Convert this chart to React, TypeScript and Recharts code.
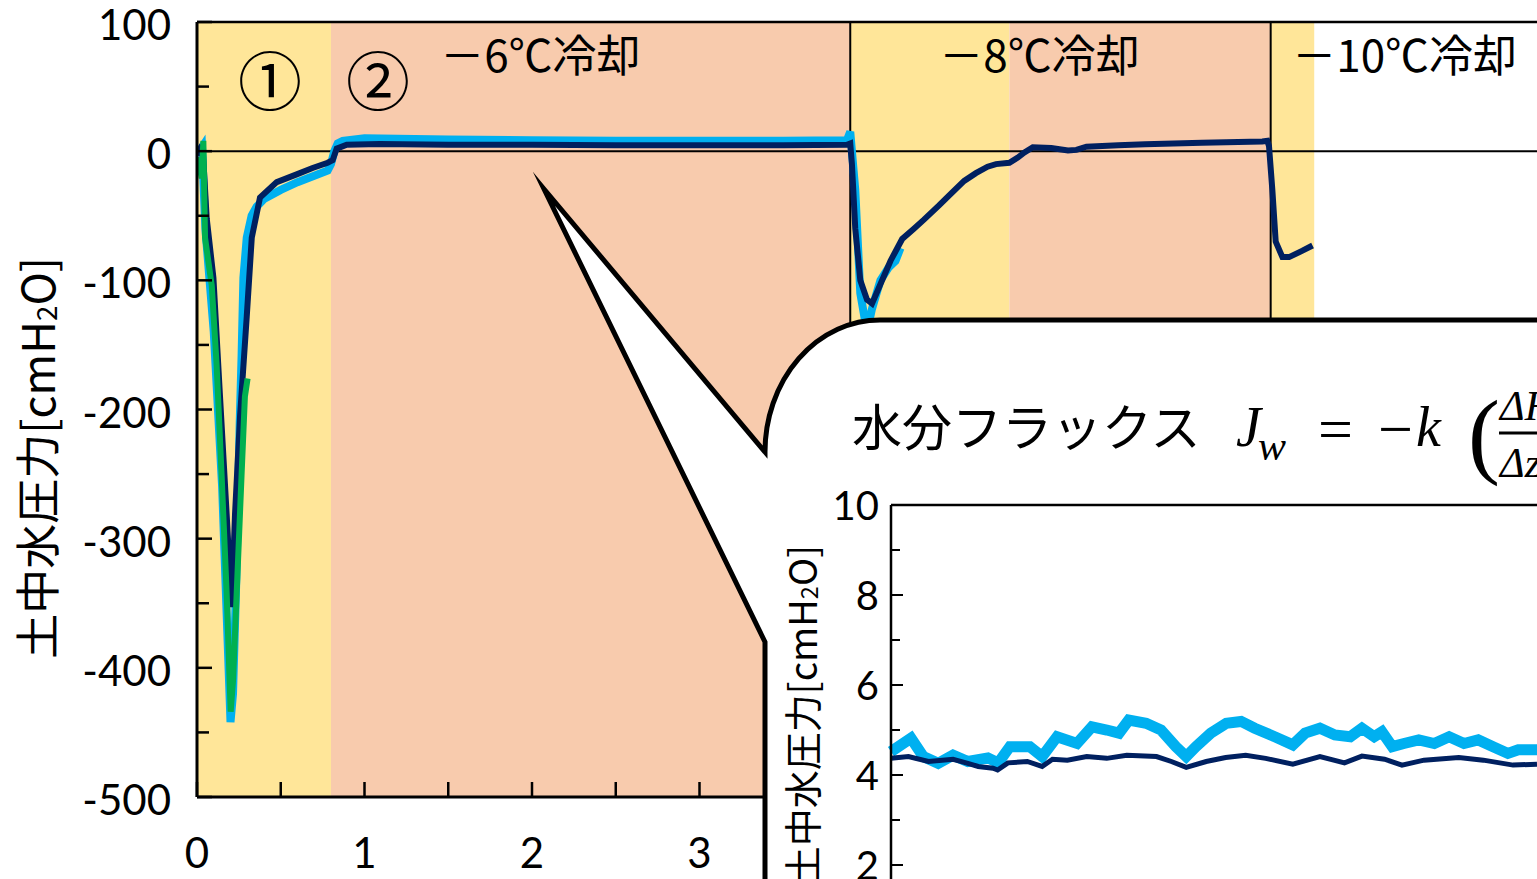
import React from 'react';
import { LineChart, Line, XAxis, YAxis, ReferenceArea, ReferenceLine, ReferenceDot } from 'recharts';

const FONT_JP = '"Noto Sans CJK JP", "Noto Sans", sans-serif';
const FONT_NUM = 'Lato, "Noto Sans", sans-serif';
const FONT_MATH = '"Liberation Serif", "DejaVu Serif", serif';

// 経過時間 (x) と土中水圧力 (y, cmH2O)
const navyX = [0, 0.02, 0.035, 0.058, 0.098, 0.137, 0.177, 0.207, 0.227, 0.257, 0.297, 0.327, 0.376, 0.476, 0.595, 0.69, 0.78, 0.81, 0.834, 0.894, 1.09, 1.5, 2, 2.5, 3, 3.5, 3.88, 3.9, 3.91, 3.93, 3.96, 4.0, 4.03, 4.08, 4.14, 4.21, 4.28, 4.34, 4.43, 4.5, 4.58, 4.65, 4.72, 4.77, 4.85, 4.9, 4.94, 4.99, 5.1, 5.2, 5.25, 5.31, 5.5, 5.66, 6.0, 6.36, 6.39, 6.4, 6.42, 6.44, 6.48, 6.52, 6.6, 6.66];
const navyY = [-3, 2, 0, -52, -98, -189, -281, -353, -281, -205, -128, -67, -36, -24, -18, -13, -9, -7, 2, 5, 5.5, 5, 5, 4.5, 4.5, 4.5, 5, 6, -10, -60, -100, -115, -118, -103, -85, -68, -60, -53, -42, -33, -23, -17, -12, -10, -9, -5, -1, 3, 2.5, 0.5, 1, 3.5, 4.5, 5.4, 6.5, 7.5, 8, 4, -30, -70, -82, -82, -77, -73];

const lightX = [0, 0.03, 0.05, 0.1, 0.15, 0.2, 0.215, 0.235, 0.255, 0.266, 0.277, 0.297, 0.326, 0.356, 0.4, 0.5, 0.6, 0.7, 0.78, 0.8, 0.82, 0.84, 0.87, 1.0, 1.5, 2, 2.5, 3, 3.5, 3.88, 3.9, 3.93, 3.96, 4.0, 4.03, 4.08, 4.13, 4.17, 4.2];
const lightY = [-3, 3, -60, -140, -260, -442, -420, -330, -210, -159, -98, -67, -50, -43, -37, -30, -24, -19, -15, -10, 0, 6, 8, 10, 9, 8.5, 8, 8, 8, 8.5, 15, -30, -110, -140, -122, -100, -90, -85, -75];

const greenX = [0, 0.01, 0.02, 0.028, 0.038, 0.048, 0.088, 0.117, 0.147, 0.177, 0.201, 0.215, 0.237, 0.266, 0.286, 0.302];
const greenY = [-12, -5, -15, -21, 8, -67, -104, -165, -251, -342, -434, -410, -342, -251, -190, -176];

// 温度条件の区間
const bandStart = [0, 0.8, 3.9, 4.85, 6.41];
const bandEnd = [0.8, 3.9, 4.85, 6.41, 6.67];
const bandKind = ['a', 'b', 'a', 'b', 'a'];
const stepLines = [3.9, 6.41];

const notes = [
  { x: 0.436, y: 53, text: '①', size: 64 },
  { x: 1.08, y: 53, text: '②', size: 64 },
  { x: 2.05, y: 73, text: '－6℃冷却', size: 44 },
  { x: 5.03, y: 73, text: '－8℃冷却', size: 44 },
  { x: 7.21, y: 73, text: '－10℃冷却', size: 44 },
];

const mainYTicks = [-500, -450, -400, -350, -300, -250, -200, -150, -100, -50, 0, 50, 100];
const mainXTicks = [0, 0.5, 1, 1.5, 2, 2.5, 3, 3.5, 4, 4.5, 5, 5.5, 6, 6.5, 7, 7.5, 8];
const mainXLabels = [0, 1, 2, 3];

// 拡大図 (水分フラックス)
const insetLightT = [0, 0.31, 0.5, 0.73, 0.96, 1.19, 1.5, 1.66, 1.84, 2.15, 2.34, 2.57, 2.88, 3.11, 3.34, 3.53, 3.68, 3.95, 4.18, 4.41, 4.57, 4.72, 4.95, 5.19, 5.42, 5.63, 5.94, 6.22, 6.41, 6.64, 6.87, 7.11, 7.29, 7.48, 7.6, 7.76, 7.94, 8.17, 8.41, 8.64, 8.87, 9.09, 9.32, 9.55, 9.71, 10];
const insetLightP = [4.52, 4.82, 4.41, 4.26, 4.44, 4.3, 4.38, 4.27, 4.63, 4.63, 4.41, 4.85, 4.7, 5.07, 5.0, 4.93, 5.22, 5.15, 5.0, 4.63, 4.41, 4.63, 4.93, 5.15, 5.19, 5.04, 4.85, 4.67, 4.93, 5.04, 4.89, 4.85, 5.04, 4.85, 4.96, 4.63, 4.7, 4.78, 4.7, 4.85, 4.7, 4.78, 4.63, 4.48, 4.56, 4.56];
const insetNavyT = [0, 0.27, 0.58, 0.96, 1.19, 1.35, 1.58, 1.65, 1.81, 2.11, 2.34, 2.5, 2.73, 3.03, 3.34, 3.65, 4.11, 4.34, 4.57, 4.88, 5.18, 5.49, 5.8, 6.22, 6.64, 7.02, 7.29, 7.64, 7.91, 8.25, 8.79, 9.17, 9.63, 10];
const insetNavyP = [4.37, 4.41, 4.3, 4.35, 4.26, 4.19, 4.15, 4.11, 4.27, 4.3, 4.19, 4.35, 4.33, 4.41, 4.37, 4.44, 4.41, 4.3, 4.17, 4.3, 4.39, 4.44, 4.37, 4.24, 4.41, 4.27, 4.42, 4.35, 4.22, 4.33, 4.39, 4.33, 4.22, 4.24];
const insetYTicks = [0, 1, 2, 3, 4, 5, 6, 7, 8, 9, 10];

const zip = (xs: number[], ys: number[]) => xs.map((x, i) => ({ x, y: ys[i] }));
const navyData = zip(navyX, navyY);
const lightData = zip(lightX, lightY);
const greenData = zip(greenX, greenY);
const insetLight = zip(insetLightT, insetLightP);
const insetNavy = zip(insetNavyT, insetNavyP);

const BAND_COLOR: Record<string, string> = { a: '#FFE699', b: '#F8CBAD' };
const NAVY = '#002060';
const LIGHT = '#00B0F0';
const GREEN = '#00B050';

const MainYTick = (props: any) => {
  const { x, y, payload } = props;
  const v = payload.value;
  const major = v % 100 === 0;
  return (
    <g>
      <line x1={x} x2={x + (major ? 15 : 12)} y1={y} y2={y} stroke="#000" strokeWidth={2.5} />
      {major && (
        <text x={x - 26} y={y + 2} textAnchor="end" dominantBaseline="central" fontSize={42} fontFamily={FONT_NUM} fill="#000">
          {v}
        </text>
      )}
    </g>
  );
};

const MainXTick = (props: any) => {
  const { x, y, payload } = props;
  const v = payload.value;
  return (
    <g>
      <line x1={x} x2={x} y1={y} y2={y - 15} stroke="#000" strokeWidth={2.5} />
      {mainXLabels.includes(v) && (
        <text x={x} y={y + 55} textAnchor="middle" dominantBaseline="central" fontSize={42} fontFamily={FONT_NUM} fill="#000">
          {v}
        </text>
      )}
    </g>
  );
};

const InsetYTick = (props: any) => {
  const { x, y, payload } = props;
  const v = payload.value;
  const major = v % 2 === 0;
  return (
    <g>
      <line x1={x} x2={x + (major ? 12 : 9)} y1={y} y2={y} stroke="#000" strokeWidth={2} />
      {major && v > 0 && (
        <text x={x - 12} y={y} textAnchor="end" dominantBaseline="central" fontSize={40} fontFamily={FONT_NUM} fill="#000">
          {v}
        </text>
      )}
    </g>
  );
};

const PressureLabel = ({ cx, top, size }: { cx: number; top: number; size: number }) => (
  <text
    x={cx}
    y={top}
    transform={`rotate(-90 ${cx} ${top})`}
    textAnchor="end"
    dominantBaseline="central"
    fontSize={size}
    fontFamily={FONT_JP}
    fill="#000"
  >
    土中水圧力[cmH
    <tspan fontSize={size * 0.62} dy={size * 0.22}>2</tspan>
    <tspan dy={-size * 0.22}>O]</tspan>
  </text>
);

const App = () => {
  return (
    <div style={{ position: 'fixed', left: 0, top: 0, width: 1537, height: 879, overflow: 'hidden', background: '#fff' }}>
      <LineChart width={1537} height={879} margin={{ top: 22, right: 0, bottom: 0, left: 0 }}>
        <XAxis
          type="number"
          dataKey="x"
          domain={[0, 8]}
          ticks={mainXTicks}
          interval={0}
          height={82}
          tickSize={0}
          tickMargin={0}
          tickLine={false}
          tick={MainXTick}
          axisLine={{ stroke: '#000', strokeWidth: 3 }}
          allowDataOverflow
        />
        <YAxis
          type="number"
          dataKey="y"
          domain={[-500, 100]}
          ticks={mainYTicks}
          interval={0}
          width={197}
          tickSize={0}
          tickMargin={0}
          tickLine={false}
          tick={MainYTick}
          axisLine={{ stroke: '#000', strokeWidth: 3 }}
          allowDataOverflow
          label={() => <PressureLabel cx={35} top={257} size={45} />}
        />
        {bandStart.map((s, i) => (
          <ReferenceArea key={`band-${i}`} x1={s} x2={bandEnd[i]} fill={BAND_COLOR[bandKind[i]]} fillOpacity={1} stroke="none" />
        ))}
        <ReferenceLine y={100} stroke="#000" strokeWidth={2.5} />
        <ReferenceLine y={0} stroke="#000" strokeWidth={2} />
        {stepLines.map((s) => (
          <ReferenceLine key={`step-${s}`} x={s} stroke="#000" strokeWidth={2} />
        ))}
        {notes.map((n) => (
          <ReferenceDot
            key={n.text}
            x={n.x}
            y={n.y}
            r={1}
            fill="none"
            stroke="none"
            label={{ value: n.text, position: 'center', fontSize: n.size, fontFamily: FONT_JP, fill: '#000' }}
          />
        ))}
        <Line data={lightData} dataKey="y" stroke={LIGHT} strokeWidth={8} dot={false} isAnimationActive={false} />
        <Line data={navyData} dataKey="y" stroke={NAVY} strokeWidth={6} dot={false} isAnimationActive={false} />
        <Line data={greenData} dataKey="y" stroke={GREEN} strokeWidth={6} dot={false} isAnimationActive={false} />
      </LineChart>

      <svg width={1537} height={879} style={{ position: 'absolute', left: 0, top: 0 }}>
        <path
          d="M544,189 L765,452 A115,132 0 0 1 880,320 L1550,320 L1550,900 L765,900 L765,642 Z"
          fill="#fff"
          stroke="#000"
          strokeWidth={5}
          strokeMiterlimit={12}
        />
        <text x={852} y={446} fontSize={50} fontFamily={FONT_JP} fill="#000">水分フラックス</text>
        <text x={1236} y={446} fontSize={56} fontFamily={FONT_MATH} fontStyle="italic" fill="#000">J</text>
        <text x={1258} y={460} fontSize={42} fontFamily={FONT_MATH} fontStyle="italic" fill="#000">w</text>
        <text x={1318} y={450} fontSize={62} fontFamily={FONT_MATH} fill="#000">=</text>
        <text x={1378} y={450} fontSize={62} fontFamily={FONT_MATH} fill="#000">−</text>
        <text x={1416} y={446} fontSize={56} fontFamily={FONT_MATH} fontStyle="italic" fill="#000">k</text>
        <text x={1468} y={466} fontSize={96} fontFamily={FONT_MATH} fill="#000">(</text>
        <line x1={1499} x2={1560} y1={433} y2={433} stroke="#000" strokeWidth={3} />
        <text x={1500} y={420} fontSize={42} fontFamily={FONT_MATH} fontStyle="italic" fill="#000">ΔH</text>
        <text x={1500} y={477} fontSize={42} fontFamily={FONT_MATH} fontStyle="italic" fill="#000">Δz</text>
      </svg>

      <div style={{ position: 'absolute', left: 760, top: 480 }}>
        <LineChart width={777} height={475} margin={{ top: 25, right: 0, bottom: 0, left: 0 }}>
          <XAxis type="number" dataKey="x" domain={[0, 10]} hide />
          <YAxis
            type="number"
            dataKey="y"
            domain={[0, 10]}
            ticks={insetYTicks}
            interval={0}
            width={131}
            tickSize={0}
            tickMargin={0}
            tickLine={false}
            tick={InsetYTick}
            axisLine={{ stroke: '#000', strokeWidth: 2.5 }}
            label={() => <PressureLabel cx={40} top={65} size={38} />}
          />
          <ReferenceLine y={10} stroke="#000" strokeWidth={2.5} />
          <Line data={insetLight} dataKey="y" stroke={LIGHT} strokeWidth={11} dot={false} isAnimationActive={false} />
          <Line data={insetNavy} dataKey="y" stroke={NAVY} strokeWidth={5} dot={false} isAnimationActive={false} />
        </LineChart>
      </div>
    </div>
  );
};

export default App;
